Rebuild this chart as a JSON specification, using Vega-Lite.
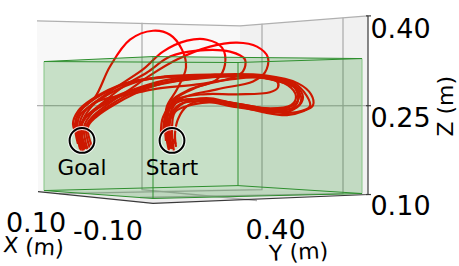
{
"$schema":"https://vega.github.io/schema/vega-lite/v6.json",
"width":459,"height":266,"padding":0,"autosize":{"type":"fit","contains":"padding"},
"background":"white","view":{"stroke":null},
"datasets":{
"panes":[
{"id":"L","i":1,"x":37,"y":21},{"id":"L","i":2,"x":240,"y":26},{"id":"L","i":3,"x":240,"y":190},{"id":"L","i":4,"x":38,"y":193},
{"id":"R","i":1,"x":240,"y":26},{"id":"R","i":2,"x":368,"y":16},{"id":"R","i":3,"x":368,"y":196},{"id":"R","i":4,"x":240,"y":190},
{"id":"F","i":1,"x":38,"y":193},{"id":"F","i":2,"x":240,"y":190},{"id":"F","i":3,"x":368,"y":196},{"id":"F","i":4,"x":153,"y":205}],
"grid":[
{"id":"a","i":1,"x":142,"y":23},{"id":"a","i":2,"x":142,"y":191},{"id":"a","i":3,"x":257,"y":202},
{"id":"b","i":1,"x":262,"y":24},{"id":"b","i":2,"x":262,"y":191},{"id":"b","i":3,"x":59,"y":195},
{"id":"c","i":1,"x":343,"y":18},{"id":"c","i":2,"x":343,"y":195},{"id":"c","i":3,"x":140,"y":199},
{"id":"h","i":1,"x":37,"y":106.5},{"id":"h","i":2,"x":240,"y":107},{"id":"h","i":3,"x":368,"y":106.5},
{"id":"t","i":1,"x":37,"y":21},{"id":"t","i":2,"x":240,"y":26},{"id":"t","i":3,"x":368,"y":16}],
"axes":[
{"id":"b","i":1,"x":38,"y":193},{"id":"b","i":2,"x":153,"y":205},{"id":"b","i":3,"x":368,"y":196},{"id":"b","i":4,"x":368,"y":16},
{"id":"t1","i":1,"x":366,"y":16},{"id":"t1","i":2,"x":371,"y":16},
{"id":"t2","i":1,"x":366,"y":106.5},{"id":"t2","i":2,"x":371,"y":106.5},
{"id":"t3","i":1,"x":366,"y":196},{"id":"t3","i":2,"x":371,"y":196}],
"curves":[
{"id":1,"i":1,"x":84,"y":152},{"id":1,"i":2,"x":80,"y":135},{"id":1,"i":3,"x":76,"y":122},{"id":1,"i":4,"x":82,"y":110},{"id":1,"i":5,"x":95,"y":98},{"id":1,"i":6,"x":110,"y":67},{"id":1,"i":7,"x":130,"y":40},{"id":1,"i":8,"x":153,"y":31},{"id":1,"i":9,"x":170,"y":35},{"id":1,"i":10,"x":182,"y":50},{"id":1,"i":11,"x":186,"y":68},{"id":1,"i":12,"x":177,"y":90},{"id":1,"i":13,"x":167,"y":107},{"id":1,"i":14,"x":165,"y":125},{"id":1,"i":15,"x":166,"y":142},
{"id":2,"i":1,"x":80,"y":150},{"id":2,"i":2,"x":77,"y":130},{"id":2,"i":3,"x":80,"y":116},{"id":2,"i":4,"x":95,"y":103},{"id":2,"i":5,"x":113,"y":90},{"id":2,"i":6,"x":143,"y":70},{"id":2,"i":7,"x":163,"y":52},{"id":2,"i":8,"x":187,"y":41},{"id":2,"i":9,"x":207,"y":40},{"id":2,"i":10,"x":222,"y":48},{"id":2,"i":11,"x":225,"y":65},{"id":2,"i":12,"x":217,"y":80},{"id":2,"i":13,"x":190,"y":90},{"id":2,"i":14,"x":170,"y":103},{"id":2,"i":15,"x":166,"y":125},{"id":2,"i":16,"x":168,"y":145},
{"id":3,"i":1,"x":85,"y":150},{"id":3,"i":2,"x":81,"y":130},{"id":3,"i":3,"x":86,"y":118},{"id":3,"i":4,"x":102,"y":104},{"id":3,"i":5,"x":125,"y":86},{"id":3,"i":6,"x":147,"y":73},{"id":3,"i":7,"x":170,"y":57},{"id":3,"i":8,"x":197,"y":51},{"id":3,"i":9,"x":230,"y":52},{"id":3,"i":10,"x":245,"y":60},{"id":3,"i":11,"x":243,"y":72},{"id":3,"i":12,"x":233,"y":78},{"id":3,"i":13,"x":197,"y":88},{"id":3,"i":14,"x":173,"y":102},{"id":3,"i":15,"x":167,"y":127},{"id":3,"i":16,"x":172,"y":150},
{"id":4,"i":1,"x":90,"y":150},{"id":4,"i":2,"x":86,"y":128},{"id":4,"i":3,"x":92,"y":118},{"id":4,"i":4,"x":108,"y":105},{"id":4,"i":5,"x":130,"y":90},{"id":4,"i":6,"x":150,"y":76},{"id":4,"i":7,"x":177,"y":60},{"id":4,"i":8,"x":210,"y":47},{"id":4,"i":9,"x":237,"y":43},{"id":4,"i":10,"x":257,"y":47},{"id":4,"i":11,"x":268,"y":58},{"id":4,"i":12,"x":265,"y":73},{"id":4,"i":13,"x":253,"y":82},{"id":4,"i":14,"x":217,"y":90},{"id":4,"i":15,"x":180,"y":100},{"id":4,"i":16,"x":170,"y":115},{"id":4,"i":17,"x":172,"y":150},
{"id":5,"i":1,"x":78,"y":145},{"id":5,"i":2,"x":75,"y":125},{"id":5,"i":3,"x":80,"y":112},{"id":5,"i":4,"x":97,"y":98},{"id":5,"i":5,"x":130,"y":83},{"id":5,"i":6,"x":163,"y":78},{"id":5,"i":7,"x":213,"y":76},{"id":5,"i":8,"x":263,"y":77},{"id":5,"i":9,"x":293,"y":83},{"id":5,"i":10,"x":307,"y":97},{"id":5,"i":11,"x":310,"y":107},{"id":5,"i":12,"x":297,"y":113},{"id":5,"i":13,"x":273,"y":113},{"id":5,"i":14,"x":237,"y":108},{"id":5,"i":15,"x":203,"y":102},{"id":5,"i":16,"x":180,"y":105},{"id":5,"i":17,"x":170,"y":117},{"id":5,"i":18,"x":168,"y":135},{"id":5,"i":19,"x":170,"y":150},
{"id":6,"i":1,"x":82,"y":150},{"id":6,"i":2,"x":79,"y":128},{"id":6,"i":3,"x":85,"y":112},{"id":6,"i":4,"x":100,"y":100},{"id":6,"i":5,"x":132,"y":84},{"id":6,"i":6,"x":165,"y":77},{"id":6,"i":7,"x":215,"y":75},{"id":6,"i":8,"x":265,"y":76},{"id":6,"i":9,"x":298,"y":84},{"id":6,"i":10,"x":311,"y":95},{"id":6,"i":11,"x":313,"y":106},{"id":6,"i":12,"x":303,"y":112},{"id":6,"i":13,"x":287,"y":116},{"id":6,"i":14,"x":263,"y":113},{"id":6,"i":15,"x":230,"y":105},{"id":6,"i":16,"x":200,"y":100},{"id":6,"i":17,"x":175,"y":103},{"id":6,"i":18,"x":163,"y":118},{"id":6,"i":19,"x":161,"y":135},
{"id":7,"i":1,"x":88,"y":152},{"id":7,"i":2,"x":84,"y":128},{"id":7,"i":3,"x":92,"y":114},{"id":7,"i":4,"x":110,"y":100},{"id":7,"i":5,"x":140,"y":88},{"id":7,"i":6,"x":170,"y":80},{"id":7,"i":7,"x":215,"y":76},{"id":7,"i":8,"x":262,"y":77},{"id":7,"i":9,"x":290,"y":84},{"id":7,"i":10,"x":298,"y":96},{"id":7,"i":11,"x":295,"y":107},{"id":7,"i":12,"x":275,"y":112},{"id":7,"i":13,"x":240,"y":106},{"id":7,"i":14,"x":205,"y":100},{"id":7,"i":15,"x":180,"y":102},{"id":7,"i":16,"x":167,"y":112},{"id":7,"i":17,"x":163,"y":135},
{"id":8,"i":1,"x":86,"y":150},{"id":8,"i":2,"x":81,"y":128},{"id":8,"i":3,"x":88,"y":112},{"id":8,"i":4,"x":98,"y":102},{"id":8,"i":5,"x":130,"y":95},{"id":8,"i":6,"x":153,"y":90},{"id":8,"i":7,"x":197,"y":85},{"id":8,"i":8,"x":230,"y":80},{"id":8,"i":9,"x":257,"y":78},{"id":8,"i":10,"x":277,"y":82},{"id":8,"i":11,"x":278,"y":88},{"id":8,"i":12,"x":270,"y":93},{"id":8,"i":13,"x":237,"y":95},{"id":8,"i":14,"x":203,"y":95},{"id":8,"i":15,"x":177,"y":100},{"id":8,"i":16,"x":168,"y":110},{"id":8,"i":17,"x":167,"y":127},{"id":8,"i":18,"x":172,"y":150},
{"id":9,"i":1,"x":92,"y":148},{"id":9,"i":2,"x":88,"y":128},{"id":9,"i":3,"x":96,"y":118},{"id":9,"i":4,"x":115,"y":105},{"id":9,"i":5,"x":150,"y":88},{"id":9,"i":6,"x":185,"y":79},{"id":9,"i":7,"x":230,"y":76},{"id":9,"i":8,"x":270,"y":78},{"id":9,"i":9,"x":295,"y":86},{"id":9,"i":10,"x":303,"y":98},{"id":9,"i":11,"x":297,"y":108},{"id":9,"i":12,"x":270,"y":110},{"id":9,"i":13,"x":235,"y":104},{"id":9,"i":14,"x":203,"y":101},{"id":9,"i":15,"x":187,"y":107},{"id":9,"i":16,"x":178,"y":120},{"id":9,"i":17,"x":175,"y":135},{"id":9,"i":18,"x":176,"y":148},
{"id":10,"i":1,"x":79,"y":140},{"id":10,"i":2,"x":73,"y":125},{"id":10,"i":3,"x":78,"y":112},{"id":10,"i":4,"x":92,"y":100},{"id":10,"i":5,"x":125,"y":84},{"id":10,"i":6,"x":160,"y":78},{"id":10,"i":7,"x":210,"y":77},{"id":10,"i":8,"x":262,"y":78},{"id":10,"i":9,"x":288,"y":86},{"id":10,"i":10,"x":296,"y":97},{"id":10,"i":11,"x":291,"y":106},{"id":10,"i":12,"x":265,"y":109},{"id":10,"i":13,"x":230,"y":103},{"id":10,"i":14,"x":200,"y":100},{"id":10,"i":15,"x":176,"y":103},{"id":10,"i":16,"x":166,"y":118},{"id":10,"i":17,"x":166,"y":135},{"id":10,"i":18,"x":169,"y":152},
{"id":11,"i":1,"x":83,"y":153},{"id":11,"i":2,"x":82,"y":135},{"id":11,"i":3,"x":92,"y":120},{"id":11,"i":4,"x":110,"y":106},{"id":11,"i":5,"x":136,"y":92},{"id":11,"i":6,"x":175,"y":82},{"id":11,"i":7,"x":225,"y":77},{"id":11,"i":8,"x":266,"y":79},{"id":11,"i":9,"x":297,"y":90},{"id":11,"i":10,"x":301,"y":102},{"id":11,"i":11,"x":290,"y":112},{"id":11,"i":12,"x":258,"y":110},{"id":11,"i":13,"x":222,"y":103},{"id":11,"i":14,"x":190,"y":106},{"id":11,"i":15,"x":175,"y":113},{"id":11,"i":16,"x":172,"y":130},{"id":11,"i":17,"x":174,"y":153},
{"id":12,"i":1,"x":81,"y":152},{"id":12,"i":2,"x":78,"y":132},{"id":12,"i":3,"x":86,"y":118},{"id":12,"i":4,"x":100,"y":108},{"id":12,"i":5,"x":122,"y":96},{"id":12,"i":6,"x":150,"y":86},{"id":12,"i":7,"x":200,"y":79},{"id":12,"i":8,"x":255,"y":76},{"id":12,"i":9,"x":286,"y":83},{"id":12,"i":10,"x":299,"y":93},{"id":12,"i":11,"x":296,"y":104},{"id":12,"i":12,"x":280,"y":110},{"id":12,"i":13,"x":244,"y":107},{"id":12,"i":14,"x":210,"y":99},{"id":12,"i":15,"x":185,"y":103},{"id":12,"i":16,"x":172,"y":116},{"id":12,"i":17,"x":170,"y":135},{"id":12,"i":18,"x":176,"y":145}],
"box":[
{"id":"fl","i":1,"x":44,"y":62},{"id":"fl","i":2,"x":153,"y":57},{"id":"fl","i":3,"x":153,"y":200},{"id":"fl","i":4,"x":44,"y":192},
{"id":"fr","i":1,"x":153,"y":57},{"id":"fr","i":2,"x":362,"y":59},{"id":"fr","i":3,"x":362,"y":195},{"id":"fr","i":4,"x":153,"y":200},
{"id":"bl","i":1,"x":44,"y":62},{"id":"bl","i":2,"x":238,"y":63},{"id":"bl","i":3,"x":238,"y":187},{"id":"bl","i":4,"x":44,"y":192},
{"id":"br","i":1,"x":238,"y":63},{"id":"br","i":2,"x":362,"y":59},{"id":"br","i":3,"x":362,"y":195},{"id":"br","i":4,"x":238,"y":187},
{"id":"to","i":1,"x":44,"y":62},{"id":"to","i":2,"x":153,"y":57},{"id":"to","i":3,"x":362,"y":59},{"id":"to","i":4,"x":238,"y":63},
{"id":"bo","i":1,"x":44,"y":192},{"id":"bo","i":2,"x":153,"y":200},{"id":"bo","i":3,"x":362,"y":195},{"id":"bo","i":4,"x":238,"y":187}],
"edges":[
{"id":"top","i":1,"x":44,"y":62},{"id":"top","i":2,"x":153,"y":57},{"id":"top","i":3,"x":362,"y":59},{"id":"top","i":4,"x":238,"y":63},{"id":"top","i":5,"x":44,"y":62},
{"id":"bot","i":1,"x":44,"y":192},{"id":"bot","i":2,"x":153,"y":200},{"id":"bot","i":3,"x":362,"y":195},{"id":"bot","i":4,"x":238,"y":187},{"id":"bot","i":5,"x":44,"y":192},
{"id":"v1","i":1,"x":153,"y":57},{"id":"v1","i":2,"x":153,"y":200},
{"id":"v2","i":1,"x":238,"y":63},{"id":"v2","i":2,"x":238,"y":187}],
"paleedges":[
{"id":"v0","i":1,"x":44,"y":62},{"id":"v0","i":2,"x":44,"y":192},
{"id":"v3","i":1,"x":362,"y":59},{"id":"v3","i":2,"x":362,"y":195}],
"targets":[{"x":82,"y":141.5},{"x":172,"y":141.5}],
"labels":[{"x":82,"y":176.5,"t":"Goal"},{"x":172,"y":176.5,"t":"Start"}],
"ticks":[
{"x":400.5,"y":38,"t":"0.40"},{"x":400.5,"y":128,"t":"0.25"},{"x":400.5,"y":217,"t":"0.10"},
{"x":36,"y":234,"t":"0.10"},{"x":108,"y":242,"t":"-0.10"},{"x":275.5,"y":241,"t":"0.40"}]
},
"encoding":{
"x":{"field":"x","type":"quantitative","scale":{"domain":[0,459],"nice":false,"zero":false},"axis":null},
"y":{"field":"y","type":"quantitative","scale":{"domain":[266,0],"nice":false,"zero":false},"axis":null}
},
"layer":[
{"data":{"name":"panes"},"transform":[{"filter":"datum.id=='L'"}],"mark":{"type":"line","interpolate":"linear-closed","fill":"#f8f8f8","strokeWidth":0},"encoding":{"order":{"field":"i"}}},
{"data":{"name":"panes"},"transform":[{"filter":"datum.id=='R'"}],"mark":{"type":"line","interpolate":"linear-closed","fill":"#f1f1f1","strokeWidth":0},"encoding":{"order":{"field":"i"}}},
{"data":{"name":"panes"},"transform":[{"filter":"datum.id=='F'"}],"mark":{"type":"line","interpolate":"linear-closed","fill":"#ececec","strokeWidth":0},"encoding":{"order":{"field":"i"}}},
{"data":{"name":"grid"},"mark":{"type":"line","stroke":"#b0b0b0","strokeWidth":1.3},"encoding":{"detail":{"field":"id"},"order":{"field":"i"}}},
{"data":{"name":"curves"},"mark":{"type":"line","interpolate":"catmull-rom","stroke":"#ff0000","strokeWidth":2.2},"encoding":{"detail":{"field":"id"},"order":{"field":"i"}}},
{"data":{"name":"box"},"mark":{"type":"line","interpolate":"linear-closed","fill":"#008000","fillOpacity":0.1,"strokeWidth":0},"encoding":{"detail":{"field":"id"},"order":{"field":"i"}}},
{"data":{"name":"paleedges"},"mark":{"type":"line","stroke":"#86c686","strokeWidth":1},"encoding":{"detail":{"field":"id"},"order":{"field":"i"}}},
{"data":{"name":"edges"},"mark":{"type":"line","stroke":"#2e8f2e","strokeWidth":1},"encoding":{"detail":{"field":"id"},"order":{"field":"i"}}},
{"data":{"name":"axes"},"mark":{"type":"line","stroke":"#3a3a3a","strokeWidth":1.2},"encoding":{"detail":{"field":"id"},"order":{"field":"i"}}},
{"data":{"name":"targets"},"mark":{"type":"point","shape":"circle","filled":false,"size":616,"stroke":"white","strokeWidth":4,"opacity":0.8}},
{"data":{"name":"targets"},"mark":{"type":"point","shape":"circle","filled":false,"size":616,"stroke":"#000000","strokeWidth":2,"opacity":1}},
{"data":{"name":"labels"},"mark":{"type":"text","font":"DejaVu Sans","fontSize":21.5,"color":"#000000","align":"center","baseline":"alphabetic"},"encoding":{"text":{"field":"t"}}},
{"data":{"name":"ticks"},"mark":{"type":"text","font":"DejaVu Sans","fontSize":27,"color":"#000000","align":"center","baseline":"alphabetic"},"encoding":{"text":{"field":"t"}}},
{"data":{"values":[{"x":33,"y":256,"t":"X (m)"}]},"mark":{"type":"text","font":"DejaVu Sans","fontSize":22,"angle":4,"color":"#000000","align":"center","baseline":"alphabetic"},"encoding":{"text":{"field":"t"}}},
{"data":{"values":[{"x":299,"y":261.5,"t":"Y (m)"}]},"mark":{"type":"text","font":"DejaVu Sans","fontSize":22,"angle":-3,"color":"#000000","align":"center","baseline":"alphabetic"},"encoding":{"text":{"field":"t"}}},
{"data":{"values":[{"x":453,"y":107,"t":"Z (m)"}]},"mark":{"type":"text","font":"DejaVu Sans","fontSize":22,"angle":270,"color":"#000000","align":"center","baseline":"alphabetic"},"encoding":{"text":{"field":"t"}}}
]
}
